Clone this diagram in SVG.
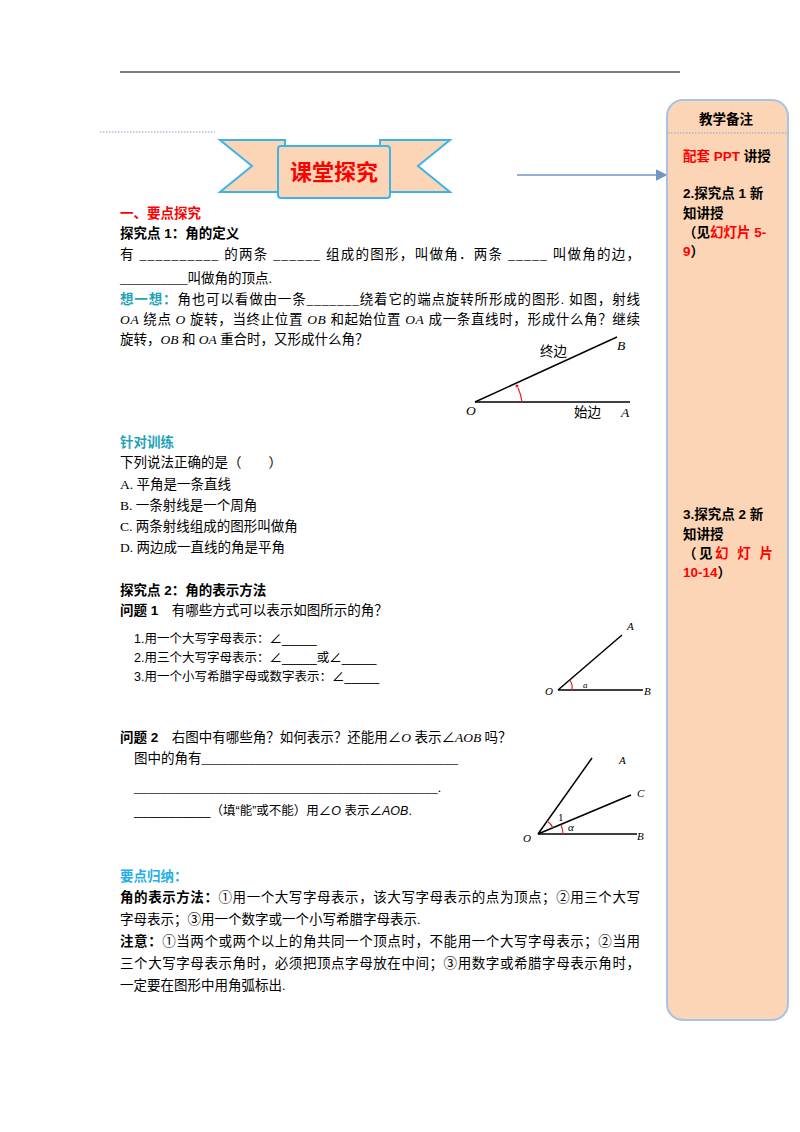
<svg xmlns="http://www.w3.org/2000/svg" width="800" height="1132" viewBox="0 0 800 1132">
<style>
text{font-family:"Liberation Serif","Noto Sans CJK SC",serif;font-size:13.5px;fill:#000}
.b{font-family:"Liberation Sans","Noto Sans CJK SC",sans-serif;font-weight:bold}
.r{fill:#ff0000}
.t{fill:#1fa3b8}
.c{fill:#1fb0e8}
.i{font-style:italic}
.s{font-family:"Liberation Sans","Noto Sans CJK SC",sans-serif}
.ln{stroke:#000;stroke-width:1.5;fill:none}
.arc{stroke:#e02020;stroke-width:1.2;fill:none}
</style>
<defs>
<marker id="ah" markerWidth="8" markerHeight="8" refX="7" refY="4" orient="auto"><path d="M0,0 L8,4 L0,8 z" fill="#6f96c5"/></marker>
</defs>
<line x1="120" y1="72" x2="680" y2="72" stroke="#000" stroke-width="1.2"/>
<line x1="100" y1="132" x2="215" y2="132" stroke="#8aa0c8" stroke-width="1.2" stroke-dasharray="1.5,1.5"/>

<g id="banner">
<polygon points="220,140 285,140 285,192 220,192 252,166" fill="#fbd5b5" stroke="#3cb4e5" stroke-width="2"/>
<polygon points="380,140 450,140 418,166 450,192 380,192" fill="#fbd5b5" stroke="#3cb4e5" stroke-width="2"/>
<rect x="278" y="146" width="112" height="52" rx="3" fill="#fbd5b5" stroke="#3cb4e5" stroke-width="2"/>
<text x="334" y="180" text-anchor="middle" class="b r" style="font-size:22px">课堂探究</text>
</g>

<g id="connectors">
<line x1="517" y1="175" x2="666" y2="175" stroke="#6f96c5" stroke-width="1.5" marker-end="url(#ah)"/>
</g>

<g id="sidebar">
<rect x="667" y="100" width="121" height="920" rx="16" fill="#fbd5b5" stroke="#a8c4e4" stroke-width="2"/>
<line x1="668" y1="133" x2="788" y2="133" stroke="#8aa0c8" stroke-width="1.2" stroke-dasharray="1.5,1.5"/>
<text x="726" y="124" text-anchor="middle" class="b">教学备注</text>
<text x="683" y="161" class="b"><tspan class="r">配套 PPT</tspan> 讲授</text>
<text x="683" y="198" class="b">2.探究点 1 新</text>
<text x="683" y="218" class="b">知讲授</text>
<text x="683" y="237" class="b">（见<tspan class="r">幻灯片 5-</tspan></text>
<text x="683" y="256" class="b r">9<tspan style="fill:#000">）</tspan></text>
<text x="683" y="519" class="b">3.探究点 2 新</text>
<text x="683" y="539" class="b">知讲授</text>
<text x="683" y="558" class="b" textLength="90">（见<tspan class="r">幻 灯 片</tspan></text>
<text x="683" y="577" class="b r">10-14<tspan style="fill:#000">）</tspan></text>
</g>

<g id="text1">
<text x="120" y="218" class="b r">一、要点探究</text>
<text x="120" y="238" class="b">探究点 1：角的定义</text>
<text x="120" y="259" textLength="520" lengthAdjust="spacing">有 __________ 的两条 ______ 组成的图形，叫做角．两条 _____ 叫做角的边，</text>
<text x="120" y="283">__________叫做角的顶点.</text>
<text x="120" y="304" textLength="520" lengthAdjust="spacing"><tspan class="b t">想一想：</tspan>角也可以看做由一条_______绕着它的端点旋转所形成的图形.  如图，射线</text>
<text x="120" y="324" textLength="520" lengthAdjust="spacing"><tspan class="i">OA</tspan> 绕点 <tspan class="i">O</tspan> 旋转，当终止位置 <tspan class="i">OB</tspan> 和起始位置 <tspan class="i">OA</tspan> 成一条直线时，形成什么角？继续</text>
<text x="120" y="344">旋转，<tspan class="i">OB</tspan> 和 <tspan class="i">OA</tspan>  重合时，又形成什么角？</text>
</g>

<g id="fig1">
<line x1="475" y1="402" x2="630" y2="402" class="ln"/>
<line x1="475" y1="402" x2="617" y2="337" class="ln"/>
<path d="M518,388 A44,44 0 0 1 522,402" class="arc"/>
<circle cx="517" cy="386" r="1.5" fill="#e02020"/>
<text x="540" y="356" class="s">终边</text>
<text x="617" y="350" class="i">B</text>
<text x="466" y="415" class="i">O</text>
<text x="574" y="417" class="s">始边</text>
<text x="621" y="417" class="i">A</text>
</g>

<g id="text2">
<text x="120" y="447" class="b t">针对训练</text>
<text x="120" y="467">下列说法正确的是（　　）</text>
<text x="120" y="489">A. 平角是一条直线</text>
<text x="120" y="510">B. 一条射线是一个周角</text>
<text x="120" y="531">C. 两条射线组成的图形叫做角</text>
<text x="120" y="552">D. 两边成一直线的角是平角</text>
<text x="120" y="595" class="b">探究点 2：角的表示方法</text>
<text x="120" y="615"><tspan class="b">问题 1</tspan>　有哪些方式可以表示如图所示的角？</text>
<text x="134" y="643" class="s" style="font-size:12.5px">1.用一个大写字母表示：∠_____</text>
<text x="134" y="662" class="s" style="font-size:12.5px">2.用三个大写字母表示：∠_____或∠_____</text>
<text x="134" y="681" class="s" style="font-size:12.5px">3.用一个小写希腊字母或数字表示：∠_____</text>
<text x="120" y="742"><tspan class="b">问题 2</tspan>　右图中有哪些角？如何表示？还能用∠<tspan class="i">O</tspan> 表示∠<tspan class="i">AOB</tspan> 吗？</text>
<text x="134" y="763">图中的角有______________________________________</text>
<text x="134" y="792">_____________________________________________.</text>
<text x="134" y="815" class="s" style="font-size:12.5px">___________（填“能”或不能）用∠<tspan class="i">O</tspan> 表示∠<tspan class="i">AOB</tspan>.</text>
</g>

<g id="fig2">
<line x1="558" y1="690" x2="643" y2="690" class="ln" stroke-width="1.2"/>
<line x1="558" y1="690" x2="622" y2="635" class="ln" stroke-width="1.2"/>
<path d="M570,680 A15,15 0 0 1 572,690" class="arc"/>
<text x="545" y="695" class="i" style="font-size:11px">O</text>
<text x="583" y="688" class="i" style="font-size:9px">a</text>
<text x="644" y="695" class="i" style="font-size:11px">B</text>
<text x="627" y="630" class="i" style="font-size:11px">A</text>
</g>

<g id="fig3">
<line x1="538" y1="834" x2="637" y2="834" class="ln" stroke-width="1.2"/>
<line x1="538" y1="834" x2="592" y2="758" class="ln" stroke-width="1.2"/>
<line x1="538" y1="834" x2="631" y2="795" class="ln" stroke-width="1.2"/>
<path d="M547,821 A16,16 0 0 1 553,828" class="arc"/>
<path d="M561,825 A24,24 0 0 1 563,834" class="arc"/>
<text x="523" y="842" class="i" style="font-size:11px">O</text>
<text x="558" y="821" style="font-size:11px">1</text>
<text x="568" y="831" class="i" style="font-size:11px">α</text>
<text x="637" y="840" class="i" style="font-size:11px">B</text>
<text x="637" y="797" class="i" style="font-size:11px">C</text>
<text x="619" y="764" class="i" style="font-size:11px">A</text>
</g>

<g id="text3">
<text x="120" y="881" class="b c">要点归纳：</text>
<text x="120" y="902" textLength="520" lengthAdjust="spacing"><tspan class="b">角的表示方法：</tspan>①用一个大写字母表示，该大写字母表示的点为顶点；②用三个大写</text>
<text x="120" y="924">字母表示；③用一个数字或一个小写希腊字母表示.</text>
<text x="120" y="946" textLength="520" lengthAdjust="spacing"><tspan class="b">注意：</tspan>①当两个或两个以上的角共同一个顶点时，不能用一个大写字母表示；②当用</text>
<text x="120" y="968" textLength="520" lengthAdjust="spacing">三个大写字母表示角时，必须把顶点字母放在中间；③用数字或希腊字母表示角时，</text>
<text x="120" y="990">一定要在图形中用角弧标出.</text>
</g>
</svg>
